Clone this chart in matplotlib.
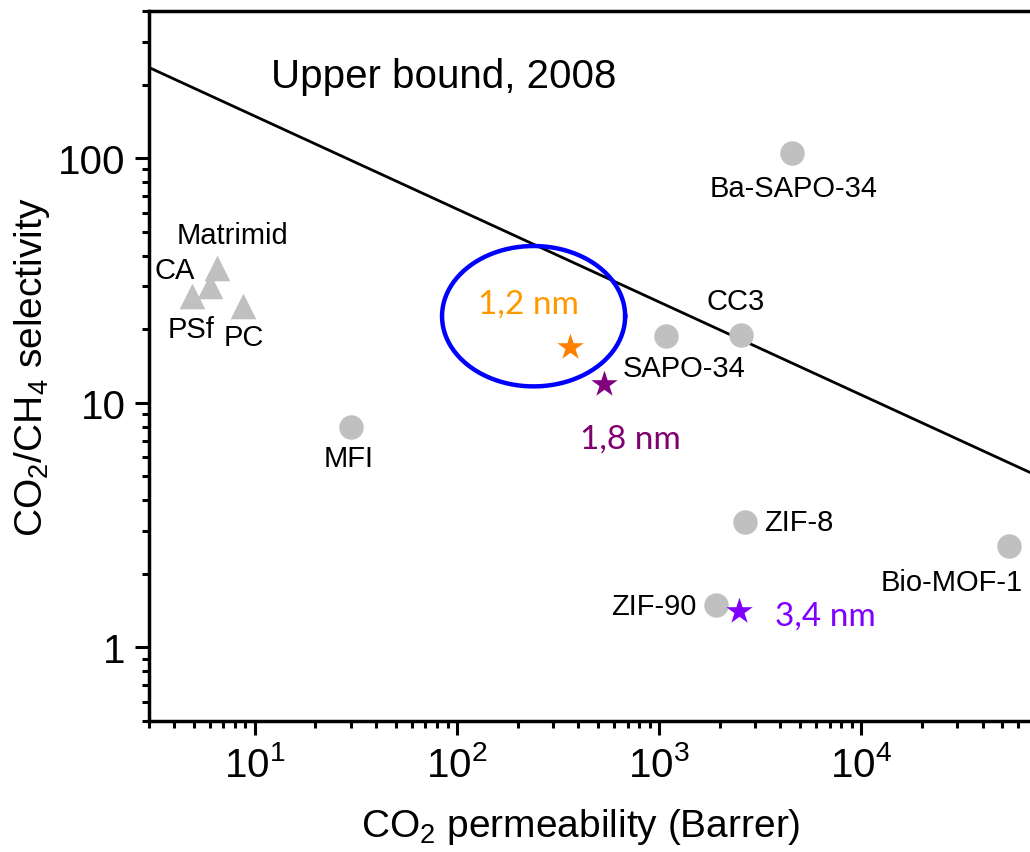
import numpy as np
import matplotlib
matplotlib.use("Agg")
import matplotlib.pyplot as plt
from matplotlib.ticker import LogLocator, FuncFormatter, NullFormatter, FixedLocator

plt.rcParams['font.family'] = ['Liberation Sans', 'DejaVu Sans']
plt.rcParams['mathtext.fontset'] = 'custom'
plt.rcParams['mathtext.rm'] = 'Liberation Sans'
plt.rcParams['mathtext.it'] = 'Liberation Sans:italic'

# polymers (triangles)
poly_names = ["Matrimid", "CA", "PSf", "PC"]
poly_perm = [6.5, 6.0, 4.9, 8.8]
poly_sel = [35.5, 29.9, 27.3, 24.8]

# inorganic / MOF membranes (circles)
mem_names = ["Ba-SAPO-34", "CC3", "SAPO-34", "MFI", "ZIF-8", "Bio-MOF-1", "ZIF-90"]
mem_perm = [4550, 2550, 1080, 30, 2670, 54000, 1910]
mem_sel = [105, 19.0, 18.7, 8.0, 3.26, 2.6, 1.49]

# this work (stars)
star_names = ["1,2 nm", "1,8 nm", "3,4 nm"]
star_perm = [362, 535, 2490]
star_sel = [16.9, 11.9, 1.41]
star_colors = ["#FF8000", "#800080", "#8000FF"]
star_text_colors = ["#FF9900", "#800070", "#8000FF"]

# Robeson upper bound 2008 (end points)
ub_perm = [3, 1e5]
ub_sel = [235, 4.5]

# x tick positions shown
x_major = [1e1, 1e2, 1e3, 1e4]

# highlighted region (centre in data, half-axes in decades)
ell_center = (240, 22.6)
ell_half = (0.453, 0.287)

fig = plt.figure(figsize=(10.3, 8.53), dpi=100)
ax = fig.add_axes([149 / 1030, 131 / 853, 914 / 1030, 710 / 853])
ax.set_xscale('log')
ax.set_yscale('log')
ax.set_xlim(3, 1e5)
ax.set_ylim(0.5, 400)

ax.plot(ub_perm, ub_sel, color='black', lw=2.0, zorder=2)
ax.text(12, 216, "Upper bound, 2008", fontsize=29, va='center', ha='left')

t = np.linspace(0, 2 * np.pi, 300)
ex = 10 ** (np.log10(ell_center[0]) + ell_half[0] * np.cos(t))
ey = 10 ** (np.log10(ell_center[1]) + ell_half[1] * np.sin(t))
ax.plot(ex, ey, color='#0000FF', lw=3.2, zorder=3)

ax.scatter(poly_perm, poly_sel, marker='^', s=340, color='#C0C0C0', lw=0, zorder=4)
ax.scatter(mem_perm, mem_sel, marker='o', s=310, color='#C0C0C0', lw=0, zorder=4)
for x, y, c in zip(star_perm, star_sel, star_colors):
    ax.scatter([x], [y], marker='*', s=400, color=c, lw=0, zorder=5)

# label offsets in points
poly_off = {"Matrimid": (11, 24, 'center'), "CA": (-11, 12, 'right'),
            "PSf": (-1, -24, 'center'), "PC": (0, -22, 'center')}
for n, x, y in zip(poly_names, poly_perm, poly_sel):
    dx, dy, ha = poly_off[n]
    ax.annotate(n, (x, y), xytext=(dx, dy), textcoords='offset points',
                ha=ha, va='center', fontsize=21)

mem_off = {"Ba-SAPO-34": (1, -25, 'center'), "CC3": (-4, 24, 'center'),
           "SAPO-34": (13, -23, 'center'), "MFI": (-2, -23, 'center'),
           "ZIF-8": (14, 0, 'left'), "Bio-MOF-1": (10, -26, 'right'),
           "ZIF-90": (-14, -1, 'right')}
for n, x, y in zip(mem_names, mem_perm, mem_sel):
    dx, dy, ha = mem_off[n]
    ax.annotate(n, (x, y), xytext=(dx, dy), textcoords='offset points',
                ha=ha, va='center', fontsize=21)

star_off = [(-30, 31, 'center'), (-17, -39, 'left'), (26, -3, 'left')]
for n, x, y, c, (dx, dy, ha) in zip(star_names, star_perm, star_sel, star_text_colors, star_off):
    ax.annotate(n, (x, y), xytext=(dx, dy), textcoords='offset points',
                ha=ha, va='center', fontsize=24, color=c,
                family=['Lato', 'DejaVu Sans'])

ax.set_xlabel(r"CO$_2$ permeability (Barrer)", fontsize=28, labelpad=16)
ax.xaxis.label.set_x(0.472)
ax.set_ylabel(r"CO$_2$/CH$_4$ selectivity", fontsize=28, labelpad=4)

ax.xaxis.set_major_locator(FixedLocator(x_major))
ax.xaxis.set_minor_locator(LogLocator(base=10, subs=np.arange(2, 10), numticks=20))
ax.xaxis.set_minor_formatter(NullFormatter())
ax.yaxis.set_major_locator(LogLocator(base=10, numticks=10))
ax.yaxis.set_minor_locator(LogLocator(base=10, subs=np.arange(2, 10), numticks=20))
ax.yaxis.set_minor_formatter(NullFormatter())
ax.yaxis.set_major_formatter(FuncFormatter(lambda v, p: "{:g}".format(v)))

ax.tick_params(which='major', direction='out', length=10, width=2.2, labelsize=29, pad=7)
ax.tick_params(which='minor', direction='out', length=5, width=2.2)
for s in ax.spines.values():
    s.set_linewidth(2.5)

fig.savefig("out.png", dpi=100)
